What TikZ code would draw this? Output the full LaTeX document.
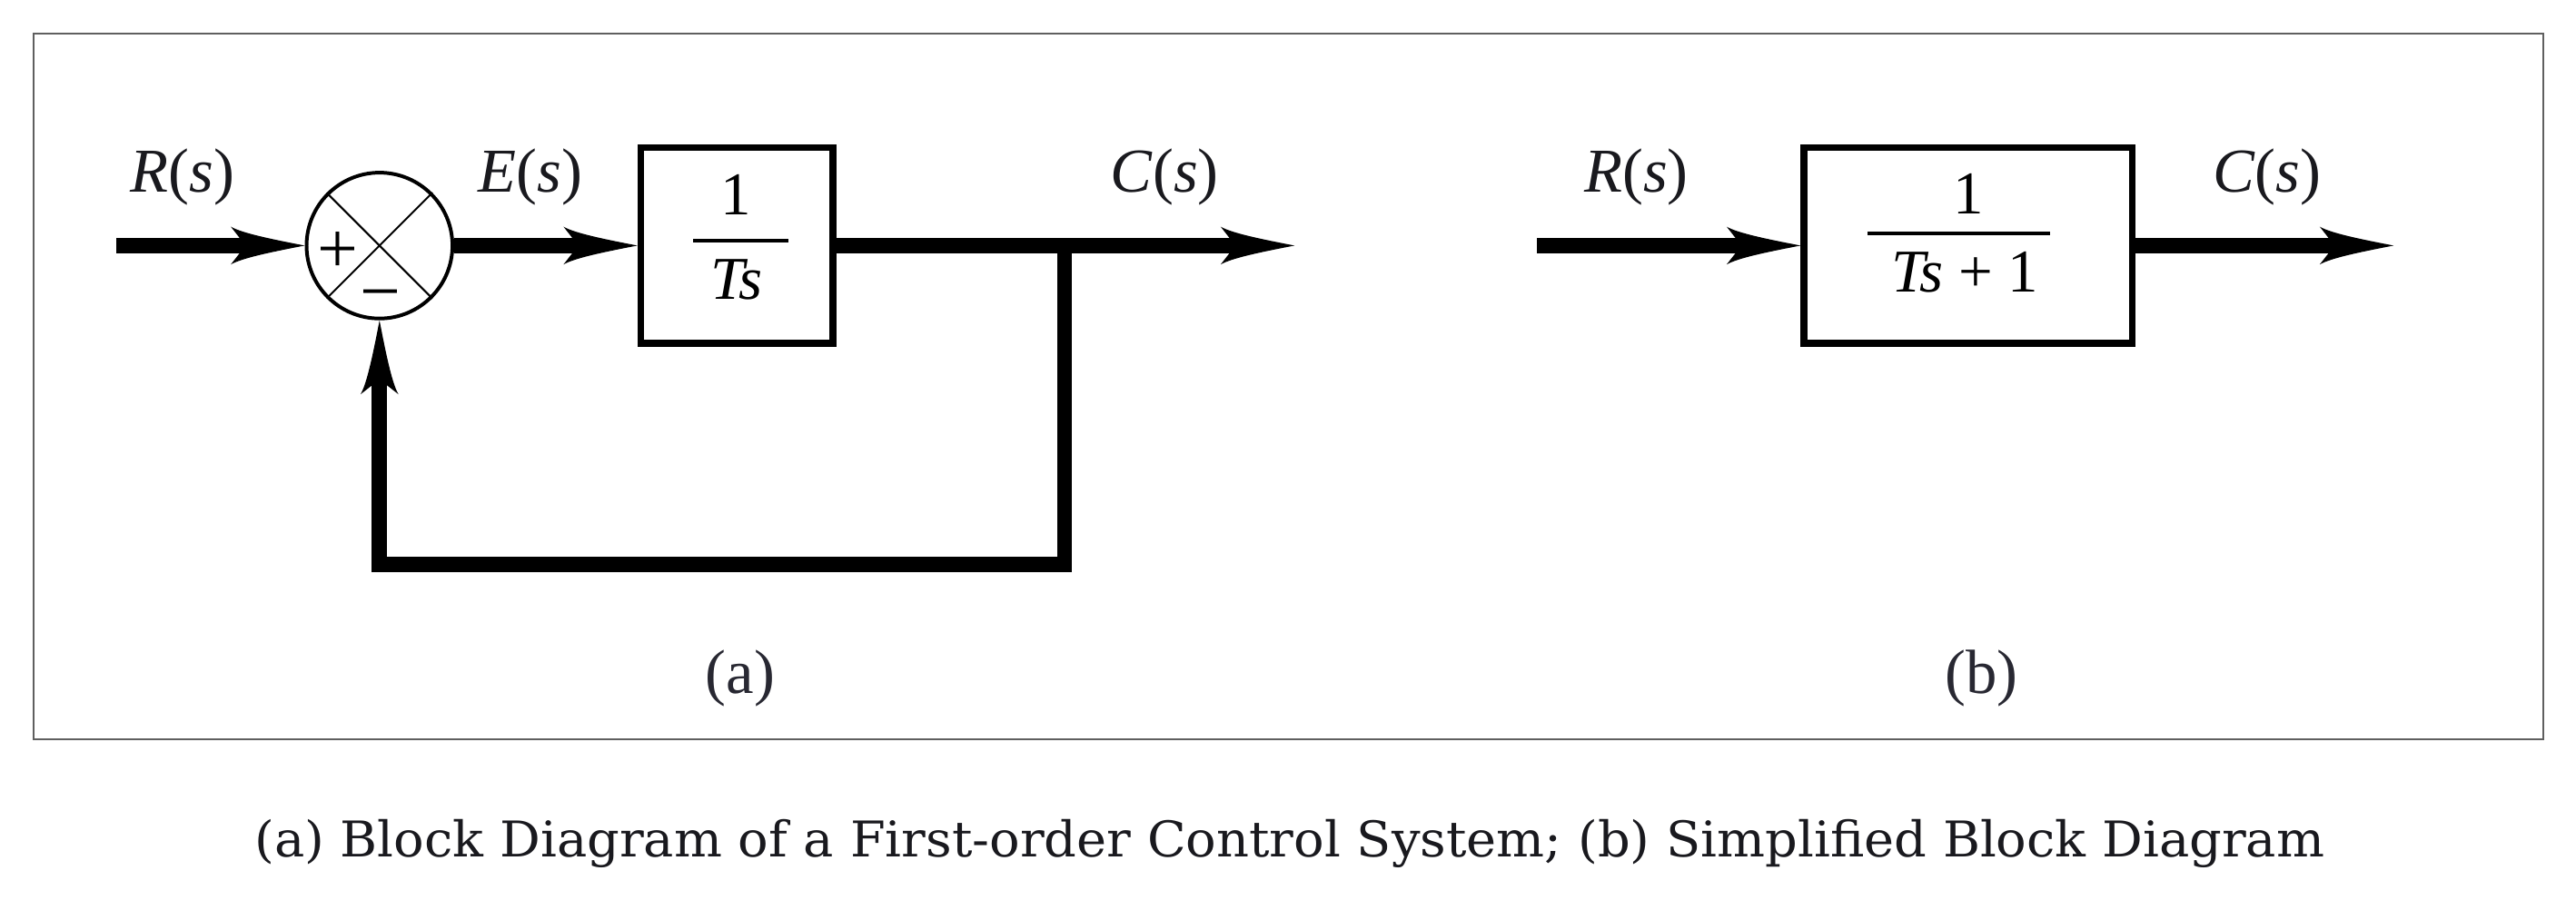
\documentclass[tikz,border=0pt]{standalone}
\usepackage{fontspec}
\setmainfont{Liberation Serif}
\newfontfamily\capfont{DejaVu Serif}
\usetikzlibrary{arrows.meta,calc}
\newdimen\fbtmp
\pgfdeclarearrow{
  name = FlareBarb,
  parameters = {\the\pgfarrowlength,\the\pgfarrowwidth,\the\pgfarrowinset},
  setup code = {
    \pgfarrowssettipend{0pt}
    \pgfarrowssetbackend{-\pgfarrowlength}
    \fbtmp=-\pgfarrowlength
    \advance\fbtmp by \pgfarrowinset
    \advance\fbtmp by 1pt
    \pgfarrowssetlineend{\fbtmp}
    \pgfarrowshullpoint{0pt}{0pt}
    \pgfarrowshullpoint{-\pgfarrowlength}{.5\pgfarrowwidth}
    \pgfarrowshullpoint{-\pgfarrowlength}{-.5\pgfarrowwidth}
    \pgfarrowssavethe\pgfarrowlength
    \pgfarrowssavethe\pgfarrowwidth
    \pgfarrowssavethe\pgfarrowinset
  },
  drawing code = {
    \pgfpathmoveto{\pgfqpoint{0pt}{0pt}}
    \pgfpathcurveto{\pgfpoint{-.45\pgfarrowlength}{.17\pgfarrowwidth}}{\pgfpoint{-.85\pgfarrowlength}{.33\pgfarrowwidth}}{\pgfpoint{-\pgfarrowlength}{.5\pgfarrowwidth}}
    \pgfpathlineto{\pgfpoint{-\pgfarrowlength+\pgfarrowinset}{0pt}}
    \pgfpathlineto{\pgfpoint{-\pgfarrowlength}{-.5\pgfarrowwidth}}
    \pgfpathcurveto{\pgfpoint{-.85\pgfarrowlength}{-.33\pgfarrowwidth}}{\pgfpoint{-.45\pgfarrowlength}{-.17\pgfarrowwidth}}{\pgfqpoint{0pt}{0pt}}
    \pgfpathclose
    \pgfusepathqfill
  },
  defaults = {length=44pt, width=22pt, inset=9pt}
}
\definecolor{framecol}{RGB}{95,95,95}
\definecolor{labcol}{RGB}{25,25,30}
\definecolor{subcol}{RGB}{40,40,50}
\begin{document}
\begin{tikzpicture}[x=1pt,y=-1pt,
  sig/.style={line width=9.2pt, -{FlareBarb[length=45pt,width=23pt,inset=9pt]}},
  blockbox/.style={draw, line width=4pt, inner sep=0pt, minimum height=119pt},
  sumnode/.style={draw, circle, line width=2.2pt, inner sep=0pt, minimum size=88.8pt},
  lab/.style={anchor=base, inner sep=0pt, text=labcol, font=\fontsize{38}{42}\selectfont},
  frac/.style={anchor=base, inner sep=0pt, text=black, font=\fontsize{37}{40}\selectfont},
  sign/.style={anchor=base, inner sep=0pt, font=\fontsize{44}{46}\selectfont},
  sublab/.style={anchor=base, inner sep=0pt, text=subcol, font=\fontsize{38}{42}\selectfont},
  fracbar/.style={line width=2.5pt},
  xline/.style={line width=1.1pt}]
\useasboundingbox (0,0) rectangle (1568,560);
\fill[white] (0,0) rectangle (1568,560);
% frame
\draw[framecol, line width=1.2pt] (20.3,20.3) rectangle (1548,450);

% ---------- (a) ----------
\coordinate (ain) at (71,149.5);
\node[sumnode] (sum) at (231,149.5) {};
\draw[xline] (sum.north east) -- (sum.south west);
\draw[xline] (sum.north west) -- (sum.south east);
\node[sign] (plus) at (205.8,166) {+};
\node[sign] (minus) at (231.7,192) {−};
\node[blockbox, minimum width=117pt] (G1) at (448.5,149.5) {};
\node[frac] (G1num) at (448,131) {1};
\node[frac] (G1den) at (448.5,182) {\textit{Ts}};
\draw[fracbar] (422,146.5) -- (480,146.5);
\coordinate (br) at (648,149.5);
\coordinate (aout) at (788,149.5);
\coordinate (fbr) at (648,343.5);
\coordinate (fbl) at (231,343.5);

\draw[sig] (ain) -- (sum.west);
\draw[sig] (sum.east) -- (G1.west);
\draw[sig] (G1.east) -- (aout);
\draw[sig] (br) -- (fbr) -- (fbl) -- (sum.south);

\node[lab] (Ra) at (111,117) {\textit{R}(\textit{s})};
\node[lab] (Ea) at (323,117) {\textit{E}(\textit{s})};
\node[lab] (Ca) at (709,117) {\textit{C}(\textit{s})};
\node[sublab] (suba) at (450.5,422) {(a)};

% ---------- (b) ----------
\coordinate (bin) at (935.5,149.5);
\node[blockbox, minimum width=200pt] (G2) at (1198,149.5) {};
\node[frac] (G2num) at (1198,130) {1};
\node[frac] (G2den) at (1196,178) {\textit{Ts} + 1};
\draw[fracbar] (1137,142) -- (1248,142);
\coordinate (bout) at (1457,149.5);
\draw[sig] (bin) -- (G2.west);
\draw[sig] (G2.east) -- (bout);
\node[lab] (Rb) at (996,117) {\textit{R}(\textit{s})};
\node[lab] (Cb) at (1380,117) {\textit{C}(\textit{s})};
\node[sublab] (subb) at (1206,422) {(b)};

% ---------- caption ----------
\node[inner sep=0pt, text=labcol] (cap) at (785,513.7)
  {\resizebox{1260pt}{\height}{\capfont\fontsize{30}{34}\selectfont (a) Block Diagram of a First-order Control System; (b) Simplified Block Diagram}};
\end{tikzpicture}
\end{document}
